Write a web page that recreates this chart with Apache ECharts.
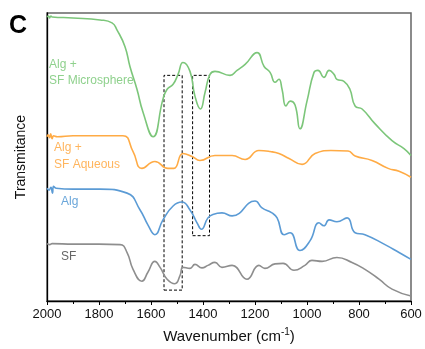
<!DOCTYPE html>
<html>
<head>
    <meta charset="utf-8">
    <title>FTIR spectra</title>
    <script src="https://cdn.jsdelivr.net/npm/echarts@6/dist/echarts.min.js"></script>
</head>
<body style="margin:0">
    <div id="main" style="width: 425px;height:349px;"></div>
    <script type="text/javascript">
        // [wavenumber, transmittance (offset, arbitrary units)]
        var microsphere = [
            [2000, 287], [1994, 288], [1990, 286], [1985, 288], [1980, 287], [1900, 286], [1796, 284],
            [1750, 281], [1731, 274], [1700, 257], [1681, 237], [1654, 214], [1631, 191],
            [1592, 166], [1554, 204], [1538, 214], [1515, 219], [1496, 229], [1477, 241],
            [1450, 232], [1431, 207], [1410, 194], [1392, 211], [1373, 229], [1354, 232],
            [1296, 228], [1269, 233], [1238, 239], [1192, 251], [1165, 237], [1142, 231],
            [1123, 221], [1108, 224], [1096, 214], [1081, 197], [1065, 202], [1046, 198],
            [1027, 174], [1000, 202], [973, 231], [958, 233], [935, 226], [915, 233],
            [896, 229], [885, 224], [858, 222], [835, 214], [815, 197], [788, 194],
            [738, 179], [673, 162], [627, 154], [600, 147]
        ];
        var aqueous = [
            [2000, 166], [1996, 168], [1990, 165], [1986, 169], [1980, 164], [1975, 167], [1960, 166],
            [1900, 167], [1800, 167], [1708, 167], [1669, 151], [1635, 134], [1585, 141],
            [1535, 134], [1512, 134], [1477, 149], [1442, 146], [1412, 142], [1354, 147],
            [1288, 147], [1238, 143], [1185, 152], [1142, 151], [1108, 149], [1069, 144],
            [1019, 138], [969, 149], [908, 152], [842, 151.5], [815, 146.5], [750, 142],
            [688, 134], [646, 131], [600, 125]
        ];
        var alg = [
            [2000, 114], [1992, 112], [1985, 115], [1979, 109], [1975, 116], [1965, 114],
            [1900, 113], [1796, 113], [1692, 109], [1642, 92], [1612, 77], [1585, 67],
            [1554, 82], [1515, 96], [1481, 100], [1450, 92], [1423, 79], [1406, 72.5],
            [1381, 84], [1362, 87.5], [1327, 89], [1288, 86], [1200, 101], [1173, 94],
            [1135, 89], [1115, 84], [1088, 67], [1065, 69], [1027, 51], [988, 61],
            [954, 79], [935, 76], [915, 82], [885, 80], [846, 84], [815, 69],
            [777, 67], [700, 57], [646, 49], [600, 42]
        ];
        var sf = [
            [2000, 58], [1990, 57], [1980, 58], [1900, 57.5], [1800, 57.5], [1719, 57], [1692, 49],
            [1669, 32], [1635, 20], [1612, 29], [1585, 40], [1565, 34], [1538, 22],
            [1508, 17.5], [1488, 26], [1477, 34], [1450, 33], [1431, 37], [1404, 33.5],
            [1381, 36], [1354, 39], [1327, 34], [1288, 36], [1231, 22], [1185, 36],
            [1162, 33], [1123, 37.5], [1092, 38], [1050, 31], [1008, 36], [981, 41],
            [942, 40], [885, 44], [827, 39], [777, 32], [723, 22], [673, 12], [600, 5]
        ];
        var seriesNames = ['Alg + SF Microsphere', 'Alg + SF Aqueous', 'Alg', 'SF'];
        var xTicks = [2000, 1800, 1600, 1400, 1200, 1000, 800, 600];
        // highlighted bands: [from, to, lower, upper]
        var bands = [[1550, 1480, 11, 228], [1440, 1375, 66, 228]];

        var colors = ['#7cc67a', '#ffab45', '#5b9bd5', '#8e8e8e'];
        var labelColors = ['#8fd18d', '#ffb55e', '#6aa6da', '#666666'];

        var dom = document.getElementById('main');
        var myChart = echarts.init(dom);

        function makeSeries(name, data, idx) {
            return {
                name: name,
                type: 'line',
                data: data,
                smooth: 0.5,
                showSymbol: false,
                lineStyle: { color: colors[idx], width: 1.6 },
                z: 3
            };
        }

        var series = [
            makeSeries(seriesNames[0], microsphere, 0),
            makeSeries(seriesNames[1], aqueous, 1),
            makeSeries(seriesNames[2], alg, 2),
            makeSeries(seriesNames[3], sf, 3)
        ];
        series.push({
            type: 'line',
            data: [],
            markArea: {
                silent: true,
                itemStyle: {
                    color: 'rgba(0,0,0,0)',
                    borderColor: '#000',
                    borderWidth: 1,
                    borderType: [3, 2]
                },
                data: bands.map(function (b) {
                    return [{ xAxis: b[0], yAxis: b[2] }, { xAxis: b[1], yAxis: b[3] }];
                })
            },
            z: 4
        });

        var option = {
            animation: false,
            grid: {
                left: 47, right: 14, top: 13, bottom: 45,
                show: true,
                borderColor: '#666',
                borderWidth: 1.5
            },
            xAxis: {
                type: 'value',
                inverse: true,
                min: 600,
                max: 2000,
                interval: 200,
                name: 'Wavenumber (cm{sup|-1})',
                nameLocation: 'middle',
                nameGap: 26,
                nameTextStyle: {
                    fontFamily: 'Liberation Sans',
                    fontSize: 15,
                    color: '#111',
                    rich: {
                        sup: { fontSize: 10, verticalAlign: 'bottom', padding: [0, 0, 9, 0], color: '#111', fontFamily: 'Liberation Sans' }
                    }
                },
                axisLine: { lineStyle: { color: '#000', width: 1.3 } },
                axisTick: { show: true, inside: false, length: 4, lineStyle: { color: '#000' } },
                minorTick: { show: true, splitNumber: 2, length: 3, lineStyle: { color: '#000' } },
                axisLabel: {
                    fontFamily: 'Liberation Sans', fontSize: 13, color: '#111', margin: 7,
                    formatter: function (v) { return xTicks.indexOf(v) >= 0 ? String(v) : ''; }
                },
                splitLine: { show: false }
            },
            yAxis: {
                type: 'value',
                min: 0,
                max: 291,
                name: 'Transmitance',
                nameLocation: 'middle',
                nameGap: 19,
                nameTextStyle: { fontFamily: 'Liberation Sans', fontSize: 14, color: '#111' },
                axisLine: { show: true, lineStyle: { color: '#000', width: 1.3 } },
                axisTick: { show: false },
                axisLabel: { show: false },
                splitLine: { show: false }
            },
            graphic: [
                { type: 'text', left: 9, top: 14, style: { text: 'C', font: 'bold 25px "Liberation Sans"', fill: '#000' } },
                { type: 'text', left: 49, top: 57, style: { text: 'Alg +\nSF Microsphere', font: '12px "Liberation Sans"', lineHeight: 16, fill: labelColors[0] } },
                { type: 'text', left: 54, top: 139, style: { text: 'Alg +\nSF Aqueous', font: '12px "Liberation Sans"', lineHeight: 17, fill: labelColors[1] } },
                { type: 'text', left: 61, top: 196, style: { text: 'Alg', font: '12px "Liberation Sans"', fill: labelColors[2] } },
                { type: 'text', left: 61, top: 251, style: { text: 'SF', font: '12px "Liberation Sans"', fill: labelColors[3] } }
            ],
            series: series
        };

        myChart.setOption(option, true);
    </script>
</body>
</html>
